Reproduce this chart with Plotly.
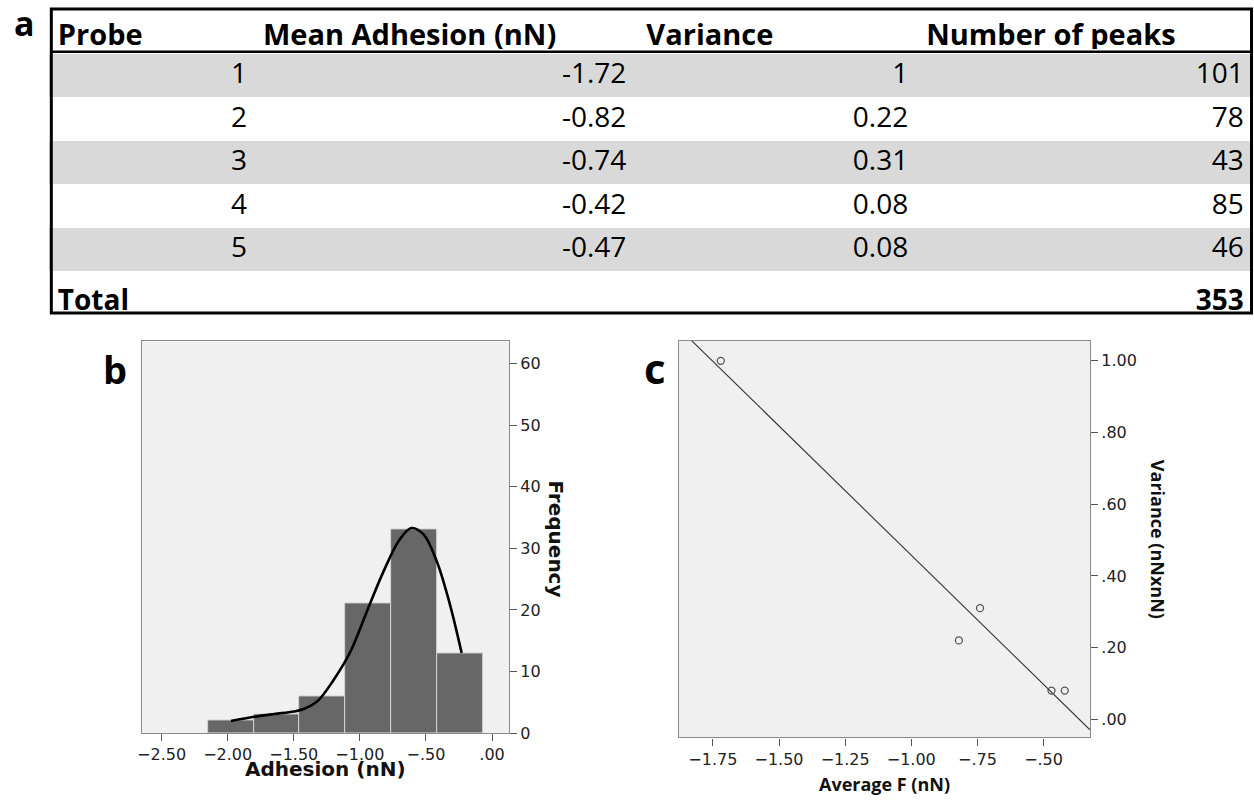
import numpy as np
import plotly.graph_objects as go

W, H = 1254, 809

# ---------------- data ----------------
table_headers = ["Probe", "Mean Adhesion (nN)", "Variance", "Number of peaks"]
probes = ["1", "2", "3", "4", "5"]
mean_adhesion = [-1.72, -0.82, -0.74, -0.42, -0.47]
variance = [1, 0.22, 0.31, 0.08, 0.08]
n_peaks = [101, 78, 43, 85, 46]

hist_bin_centers = [-1.977, -1.630, -1.283, -0.936, -0.589, -0.242]
hist_counts = [2, 3, 6, 21, 33, 13]
hist_bin_width = 0.347

curve_x = [-1.975, -1.80, -1.65, -1.50, -1.42, -1.32, -1.20, -1.07, -0.95,
           -0.82, -0.70, -0.61, -0.52, -0.42, -0.32, -0.23]
curve_y = [1.97, 2.65, 3.1, 3.5, 3.95, 5.2, 8.6, 13.3, 19.6,
           26.3, 31.4, 33.3, 32.3, 28.0, 21.0, 13.0]

b_xticks = [-2.5, -2.0, -1.5, -1.0, -0.5, 0.0]
b_xticktext = ["\u22122.50", "\u22122.00", "\u22121.50", "\u22121.00", "\u2212.50", ".00"]
b_yticks = [0, 10, 20, 30, 40, 50, 60]
b_yticktext = ["0", "10", "20", "30", "40", "50", "60"]

c_xticks = [-1.75, -1.5, -1.25, -1.0, -0.75, -0.5]
c_xticktext = ["\u22121.75", "\u22121.50", "\u22121.25", "\u22121.00", "\u2212.75", "\u2212.50"]
c_yticks = [0.0, 0.2, 0.4, 0.6, 0.8, 1.0]
c_yticktext = [".00", ".20", ".40", ".60", ".80", "1.00"]


def px(x):
    return x / W


def py(y):
    return 1 - y / H


fig = go.Figure()

# ---------------- table (a) ----------------
TFONT = "Open Sans"
total = sum(n_peaks)

# header row
fig.add_trace(go.Table(
    domain=dict(x=[px(45), px(1252)], y=[py(50), py(6)]),
    columnwidth=[206, 385, 281, 335],
    header=dict(values=["<b>%s</b>" % h for h in table_headers],
                align="left", height=44,
                font=dict(family=TFONT, size=29, color="black"),
                fill=dict(color="white"), line=dict(color="white", width=0)),
    cells=dict(values=[[], [], [], []],
               fill=dict(color="white"), line=dict(color="white", width=0)),
))

# body rows, one table row per probe plus the total row
row_fill = ["#d9d9d9", "white", "#d9d9d9", "white", "#d9d9d9", "white"]
colA = [""] * len(probes) + ["<b>Total</b>"]
colB = probes + [""]
colC = ["%.2f" % v for v in mean_adhesion] + [""]
colD = ["%g" % v for v in variance] + [""]
colE = [str(v) for v in n_peaks] + ["<b>%d</b>" % total]
cols = [colA, colB, colC, colD, colE]
aligns = ["left", "center", "right", "right", "right"]
ROW_TOP, ROW_H = 55, 44
for i in range(len(colA)):
    top = ROW_TOP + i * ROW_H
    fig.add_trace(go.Table(
        domain=dict(x=[px(45), px(1252)], y=[py(top + ROW_H), py(top)]),
        columnwidth=[125, 130, 332, 283, 337],
        header=dict(values=[c[i] for c in cols], align=aligns, height=ROW_H,
                    font=dict(family=TFONT, size=28, color="black"),
                    fill=dict(color=row_fill[i]), line=dict(color=row_fill[i], width=1)),
        cells=dict(values=[[], [], [], [], []],
                   fill=dict(color="white"), line=dict(color="white", width=0)),
    ))

# ---------------- histogram (b) ----------------
fig.add_trace(go.Bar(
    x=hist_bin_centers, y=hist_counts, width=hist_bin_width,
    marker=dict(color="#676767", line=dict(color="#d4d4d4", width=1)),
    xaxis="x", yaxis="y", showlegend=False, hoverinfo="skip"))
fig.add_trace(go.Scatter(
    x=curve_x, y=curve_y, mode="lines",
    line=dict(color="black", width=2.6, shape="spline", smoothing=1.0),
    xaxis="x", yaxis="y", showlegend=False, hoverinfo="skip"))

# ---------------- scatter + fit (c) ----------------
slope, intercept = np.polyfit(mean_adhesion, variance, 1)
c_range_x = [-1.878, -0.3246]
fit_x = np.array(c_range_x)
fit_y = slope * fit_x + intercept
fig.add_trace(go.Scatter(
    x=fit_x, y=fit_y, mode="lines", line=dict(color="#333333", width=1.1),
    xaxis="x2", yaxis="y2", showlegend=False, hoverinfo="skip", cliponaxis=True))
fig.add_trace(go.Scatter(
    x=mean_adhesion, y=variance, mode="markers",
    marker=dict(symbol="circle-open", size=7, color="#555555", line=dict(width=1.3)),
    xaxis="x2", yaxis="y2", showlegend=False, hoverinfo="skip"))

TICKFONT = dict(family="DejaVu Sans", size=16, color="#222222")
axis_common = dict(showgrid=False, zeroline=False, showline=True, mirror=True,
                   linecolor="#8a8a8a", linewidth=1.3, ticks="outside",
                   ticklen=7, tickcolor="#555555", tickwidth=1.3,
                   tickfont=TICKFONT, fixedrange=True)

fig.update_layout(
    width=W, height=H, autosize=False,
    margin=dict(l=0, r=0, t=0, b=0, pad=0),
    paper_bgcolor="white",
    plot_bgcolor="#f0f0f0",
    showlegend=False,
    bargap=0,
    xaxis=dict(domain=[px(137.7), px(506)], range=[-2.647, 0.128],
               tickvals=b_xticks, ticktext=b_xticktext, anchor="y", **axis_common),
    yaxis=dict(domain=[py(742.3), py(345.7)], range=[0, 63.6], side="right",
               tickvals=b_yticks, ticktext=b_yticktext, anchor="x", **axis_common),
    xaxis2=dict(domain=[px(676.7), px(1089.3)], range=c_range_x,
                tickvals=c_xticks, ticktext=c_xticktext, anchor="y2", **axis_common),
    yaxis2=dict(domain=[py(746.7), py(345)], range=[-0.0507, 1.056], side="right",
                tickvals=c_yticks, ticktext=c_yticktext, anchor="x2", **axis_common),
)

# outer border & header rule of the table
fig.add_shape(type="rect", xref="paper", yref="paper",
              x0=px(46.5), x1=px(1251.5), y0=py(317), y1=py(9),
              line=dict(color="black", width=3))
fig.add_shape(type="line", xref="paper", yref="paper",
              x0=px(46.5), x1=px(1251.5), y0=py(52.5), y1=py(52.5),
              line=dict(color="black", width=2.5))

ann = []
ann.append(dict(text="<b>a</b>", x=px(20), y=py(23), font=dict(family="Open Sans", size=34, color="black")))
ann.append(dict(text="<b>b</b>", x=px(110), y=py(374), font=dict(family="Open Sans", size=38, color="black")))
ann.append(dict(text="<b>c</b>", x=px(653), y=py(372), font=dict(family="Open Sans", size=42, color="black")))
ann.append(dict(text="<b>Adhesion (nN)</b>", x=px(322), y=py(779),
                font=dict(family="DejaVu Sans", size=20, color="#111111")))
ann.append(dict(text="<b>Frequency</b>", x=px(553), y=py(546), textangle=90,
                font=dict(family="DejaVu Sans", size=20, color="#111111")))
ann.append(dict(text="<b>Average F (nN)</b>", x=px(883), y=py(794),
                font=dict(family="Open Sans", size=18, color="#111111")))
ann.append(dict(text="<b>Variance (nNxnN)</b>", x=px(1157), y=py(546), textangle=90,
                font=dict(family="Open Sans", size=18, color="#111111")))
for a in ann:
    a.update(xref="paper", yref="paper", showarrow=False, xanchor="center", yanchor="middle")
fig.update_layout(annotations=ann)

fig.write_html("out.html")
